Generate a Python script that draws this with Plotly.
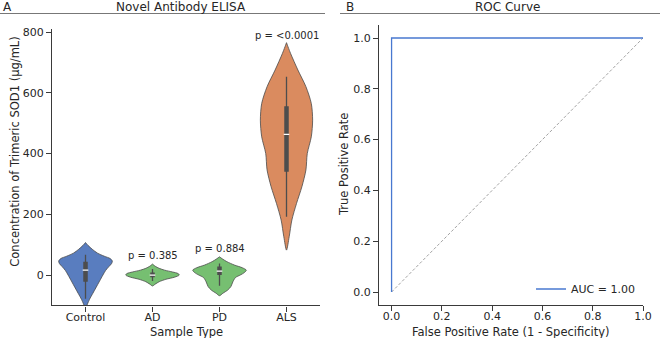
import plotly.graph_objects as go

# ---------------- data ----------------
categories = ["Control", "AD", "PD", "ALS"]

# violin density profiles (value levels and half-widths in category units)
control_y = [-108, -95, -80, -60, -40, -20, 0, 15, 28, 38, 46, 54, 62, 72, 85, 97, 107]
control_w = [0.0, 0.03, 0.06, 0.11, 0.16, 0.21, 0.26, 0.30, 0.35, 0.39, 0.40, 0.37, 0.28, 0.18, 0.10, 0.04, 0.0]

ad_y = [-36, -30, -22, -14, -7, 0, 5, 10, 16, 22, 29, 36]
ad_w = [0.0, 0.04, 0.10, 0.20, 0.33, 0.40, 0.38, 0.30, 0.18, 0.10, 0.04, 0.0]

pd_y = [-68, -60, -50, -38, -22, -8, 0, 8, 16, 24, 33, 44, 52, 60]
pd_w = [0.0, 0.05, 0.12, 0.17, 0.20, 0.24, 0.31, 0.37, 0.40, 0.34, 0.22, 0.11, 0.05, 0.0]

als_y = [82, 126, 181, 236, 291, 346, 400, 455, 510, 565, 620, 675, 730, 765]
als_w = [0.0, 0.04, 0.08, 0.15, 0.23, 0.29, 0.31, 0.37, 0.39, 0.37, 0.29, 0.17, 0.06, 0.0]

# inner box statistics
q1 = [-22, -7, 0, 340]
median = [16, 0, 13, 463]
q3 = [44, 8, 28, 556]
whisk_lo = [-78, -20, -35, 192]
whisk_hi = [67, 20, 38, 653]

p_labels = ["", "p = 0.385", "p = 0.884", "p = <0.0001"]
p_label_y = [None, 64, 86, 788]

violin_colors = ["#597dbf", "#76bf71", "#76bf71", "#da8b5f"]

# ROC data
fpr = [0.0, 0.0, 1.0]
tpr = [0.0, 1.0, 1.0]
auc_label = "AUC = 1.00"
chance = [0.0, 1.0]

# ---------------- figure ----------------
FONT = "DejaVu Sans"
TXT = "#262626"
AXC = "#3a3a3a"

fig = go.Figure()

profiles = [(control_y, control_w), (ad_y, ad_w), (pd_y, pd_w), (als_y, als_w)]
for i, (ys, ws) in enumerate(profiles):
    xs = [i + w for w in ws] + [i - w for w in reversed(ws)]
    yy = list(ys) + list(reversed(ys))
    fig.add_trace(go.Scatter(
        x=xs, y=yy, mode="lines", fill="toself", fillcolor=violin_colors[i],
        line=dict(color="#4a4a4a", width=0.8, shape="spline", smoothing=0.8),
        showlegend=False, hoverinfo="skip", xaxis="x", yaxis="y"))
    # whisker
    fig.add_trace(go.Scatter(
        x=[i, i], y=[whisk_lo[i], whisk_hi[i]], mode="lines",
        line=dict(color="#4d4d4d", width=1.3), showlegend=False,
        hoverinfo="skip", xaxis="x", yaxis="y"))
    # box
    fig.add_trace(go.Scatter(
        x=[i, i], y=[q1[i], q3[i]], mode="lines",
        line=dict(color="#4d4d4d", width=4.5), showlegend=False,
        hoverinfo="skip", xaxis="x", yaxis="y"))
    # median
    fig.add_trace(go.Scatter(
        x=[i], y=[median[i]], mode="markers",
        marker=dict(symbol="line-ew", size=4, line=dict(color="white", width=1.3)),
        showlegend=False, hoverinfo="skip", xaxis="x", yaxis="y"))

for i, lab in enumerate(p_labels):
    if lab:
        fig.add_annotation(x=i, y=p_label_y[i], xref="x", yref="y", text=lab,
                           showarrow=False, yanchor="middle",
                           font=dict(family=FONT, size=10, color=TXT))

# ROC
fig.add_trace(go.Scatter(x=chance, y=chance, mode="lines",
                         line=dict(color="#8a8a8a", width=0.8, dash="3px,2px"),
                         showlegend=False, hoverinfo="skip", xaxis="x2", yaxis="y2"))
fig.add_trace(go.Scatter(x=fpr, y=tpr, mode="lines", name=auc_label,
                         line=dict(color="#4878d0", width=1.3),
                         showlegend=True, xaxis="x2", yaxis="y2"))

W, H = 660, 338
def px_x(p):
    return p / W
def px_y(p):
    return 1 - p / H

axis_common = dict(showline=True, linecolor=AXC, linewidth=1.2, ticks="outside",
                   ticklen=5, tickwidth=1.2, tickcolor=AXC, showgrid=False,
                   zeroline=False, tickfont=dict(family=FONT, size=11, color=TXT),
                   mirror=False, automargin=False)

fig.update_layout(
    width=W, height=H, margin=dict(l=0, r=0, t=0, b=0),
    paper_bgcolor="white", plot_bgcolor="white",
    font=dict(family=FONT, color=TXT),
    xaxis=dict(domain=[px_x(52), px_x(320)], range=[-0.5, 3.5],
               tickmode="array", tickvals=[0, 1, 2, 3], ticktext=categories,
               ticklabelstandoff=-4, anchor="y", **axis_common),
    yaxis=dict(domain=[px_y(305.4), px_y(29)], range=[-100, 810],
               tickvals=[0, 200, 400, 600, 800], anchor="x", **axis_common),
    xaxis2=dict(domain=[px_x(379), px_x(643)], range=[-0.05, 1.0],
                tickvals=[0, 0.2, 0.4, 0.6, 0.8, 1.0], tickformat=".1f",
                ticklabelstandoff=-4, anchor="y2", **axis_common),
    yaxis2=dict(domain=[px_y(304.7), px_y(25.3)], range=[-0.05, 1.05],
                tickvals=[0, 0.2, 0.4, 0.6, 0.8, 1.0], tickformat=".1f",
                anchor="x2", **axis_common),
    legend=dict(x=px_x(640), y=px_y(289), xanchor="right", yanchor="middle",
                bgcolor="rgba(0,0,0,0)", borderwidth=0,
                font=dict(family=FONT, size=11, color=TXT)),
)

# axis titles
title_font = dict(family=FONT, size=11.5, color=TXT)
axis_titles = [
    ("Sample Type", 186, 332, 0),
    ("False Positive Rate (1 - Specificity)", 511, 332, 0),
    ("Concentration of Trimeric SOD1 (μg/mL)", 14.7, 152, -90),
    ("True Positive Rate", 344, 165, -90),
]
for txt, cx, cy, ang in axis_titles:
    fig.add_annotation(x=px_x(cx), y=px_y(cy), xref="paper", yref="paper", text=txt,
                       showarrow=False, xanchor="center", yanchor="middle",
                       textangle=ang, font=title_font)

# panel headers
for txt, cx in [("Novel Antibody ELISA", 181), ("ROC Curve", 507)]:
    fig.add_annotation(x=px_x(cx), y=px_y(7), xref="paper", yref="paper", text=txt,
                       showarrow=False, xanchor="center", yanchor="middle",
                       font=dict(family=FONT, size=12, color=TXT))
for txt, lx in [("A", 1), ("B", 344)]:
    fig.add_annotation(x=px_x(lx), y=px_y(7), xref="paper", yref="paper", text=txt,
                       showarrow=False, xanchor="left", yanchor="middle",
                       font=dict(family=FONT, size=12, color=TXT))
for x0, x1 in [(0, 325), (340, 660)]:
    fig.add_shape(type="line", xref="paper", yref="paper",
                  x0=px_x(x0), x1=px_x(x1), y0=px_y(13.5), y1=px_y(13.5),
                  line=dict(color="#777777", width=1))

fig.write_html("out.html")
